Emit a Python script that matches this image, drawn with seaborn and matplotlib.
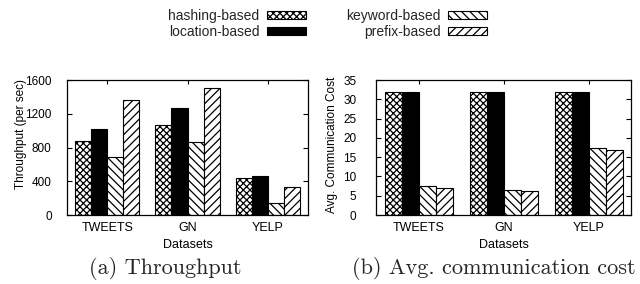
import pandas as pd
import numpy as np
import matplotlib
matplotlib.use('Agg')
import matplotlib.pyplot as plt
import seaborn as sns
from matplotlib.patches import Patch

# datos
datasets = ['TWEETS', 'GN', 'YELP']
methods = ['hashing-based', 'location-based', 'keyword-based', 'prefix-based']

throughput_hashing = [877, 1064, 437]
throughput_location = [1016, 1270, 460]
throughput_keyword = [683, 865, 143]
throughput_prefix = [1362, 1500, 337]

cost_hashing = [32.0, 32.0, 32.0]
cost_location = [32.0, 32.0, 32.0]
cost_keyword = [7.6, 6.6, 17.5]
cost_prefix = [6.9, 6.3, 16.8]

colores = {'hashing-based': 'white', 'location-based': 'black',
           'keyword-based': 'white', 'prefix-based': 'white'}
tramas = {'hashing-based': 'xxxxx', 'location-based': '',
          'keyword-based': '\\\\\\\\', 'prefix-based': '////'}

# tabla larga para seaborn
filas = []
for i, d in enumerate(datasets):
    filas.append((d, 'hashing-based', throughput_hashing[i], cost_hashing[i]))
    filas.append((d, 'location-based', throughput_location[i], cost_location[i]))
    filas.append((d, 'keyword-based', throughput_keyword[i], cost_keyword[i]))
    filas.append((d, 'prefix-based', throughput_prefix[i], cost_prefix[i]))
df = pd.DataFrame(filas, columns=['dataset', 'method', 'throughput', 'cost'])

sns.set_theme(style='white')
plt.rcParams['font.family'] = ['Liberation Sans', 'DejaVu Sans']
plt.rcParams['hatch.linewidth'] = 0.9
plt.rcParams['axes.linewidth'] = 0.9

fig = plt.figure(figsize=(6.4, 2.84), dpi=100)
W, H = 640.0, 284.0
ax1 = fig.add_axes([67 / W, 1 - 215 / H, 241 / W, 135 / H])
ax2 = fig.add_axes([376 / W, 1 - 215 / H, 255 / W, 135 / H])


def dibujar(ax, col, ymax, yticks, ylabel, ylab_x, ylab_y, ypad):
    sns.barplot(data=df, x='dataset', y=col, hue='method', order=datasets,
                hue_order=methods, palette=colores, edgecolor='black',
                linewidth=0.8, width=0.8, saturation=1, legend=False,
                errorbar=None, ax=ax)
    for cont, m in zip(ax.containers, methods):
        for barra in cont:
            barra.set_hatch(tramas[m])
    ax.set_xlim(-0.5, 2.5)
    ax.set_ylim(0, ymax)
    ax.set_yticks(yticks)
    ax.set_xlabel('Datasets', fontsize=9, labelpad=4, color='black')
    ax.set_ylabel(ylabel, fontsize=8.5, color='black')
    ax.yaxis.set_label_coords(ylab_x, ylab_y)
    ax.tick_params(axis='y', direction='in', left=True, right=True,
                   length=3.5, width=0.8, labelsize=8.5, pad=ypad, colors='black')
    ax.tick_params(axis='x', direction='in', bottom=False, top=True,
                   length=3, width=0.8, labelsize=9, pad=5, colors='black')
    for s in ax.spines.values():
        s.set_color('black')
        s.set_visible(True)


dibujar(ax1, 'throughput', 1600, [0, 400, 800, 1200, 1600],
        'Throughput (per sec)', -0.165, 0.6, 11)
dibujar(ax2, 'cost', 35, list(range(0, 36, 5)),
        'Avg. Communication Cost', -0.15, 0.52, 14)

# leyenda: cada entrada alineada a la derecha contra su muestra
entradas = [('hashing-based', 306, 15.7), ('location-based', 306, 31.7),
            ('keyword-based', 487, 15.7), ('prefix-based', 487, 31.7)]
for m, xr, yc in entradas:
    h = Patch(facecolor=colores[m], edgecolor='black', hatch=tramas[m], linewidth=0.8)
    fig.legend(handles=[h], labels=[m], loc='center right',
               bbox_to_anchor=(xr / W, 1 - yc / H), markerfirst=False,
               frameon=False, borderpad=0, borderaxespad=0, handlelength=2.8,
               handleheight=0.5, handletextpad=0.55, fontsize=10)

# subtitulos
fig.text(165 / W, 1 - 269 / H, '(a) Throughput', family='cmr10',
         fontsize=16, ha='center', va='center')
fig.text(494 / W, 1 - 269 / H, '(b) Avg. communication cost', family='cmr10',
         fontsize=16, ha='center', va='center')

fig.savefig('out.png', dpi=100)
